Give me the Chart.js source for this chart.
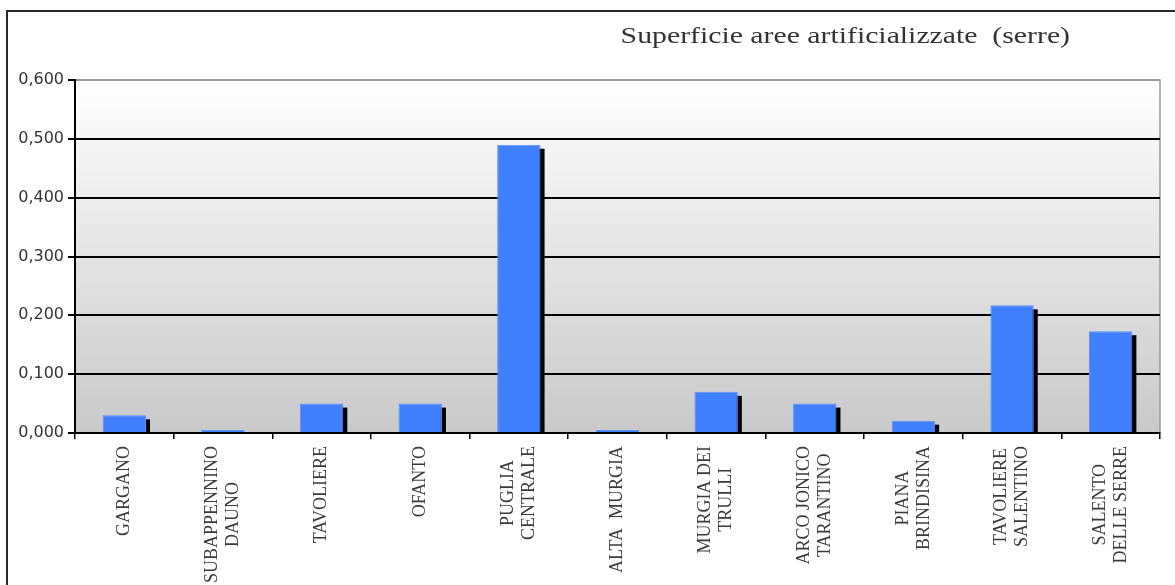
<!DOCTYPE html>
<html>
<head>
<meta charset="utf-8">
<script src="https://cdn.jsdelivr.net/npm/chart.js@4.4.1/dist/chart.umd.min.js"></script>
<style>
  html, body { margin: 0; padding: 0; background: #ffffff; }
  #wrap { position: relative; width: 1175px; height: 585px; overflow: hidden; }
  #frame { position: absolute; left: 6px; top: 10px; width: 1200px; height: 620px; border: 2px solid #2a2a2a; pointer-events: none; }
  canvas { position: absolute; left: 0; top: 0; }
</style>
</head>
<body>
<div id="wrap">
  <canvas id="c" width="1175" height="585"></canvas>
  <div id="frame"></div>
</div>
<script>
const titleText = "Superficie aree artificializzate  (serre)";
const categories = [
  ["GARGANO"],
  ["SUBAPPENNINO", "DAUNO"],
  ["TAVOLIERE"],
  ["OFANTO"],
  ["PUGLIA", "CENTRALE"],
  ["ALTA  MURGIA"],
  ["MURGIA DEI", "TRULLI"],
  ["ARCO JONICO", "TARANTINO"],
  ["PIANA", "BRINDISINA"],
  ["TAVOLIERE", "SALENTINO"],
  ["SALENTO", "DELLE SERRE"]
];
const values = [0.030, 0.005, 0.050, 0.050, 0.490, 0.005, 0.070, 0.050, 0.021, 0.217, 0.173];
const yTicks = [0, 0.1, 0.2, 0.3, 0.4, 0.5, 0.6];

const bgPlugin = {
  id: 'bg',
  beforeDraw(chart) {
    const { ctx, chartArea: a } = chart;
    const g = ctx.createLinearGradient(0, a.top, 0, a.bottom);
    g.addColorStop(0, '#ffffff');
    g.addColorStop(1, '#c9c9c9');
    ctx.save();
    ctx.fillStyle = g;
    ctx.fillRect(a.left, a.top, a.right - a.left, a.bottom - a.top);
    ctx.strokeStyle = '#9a9a9a';
    ctx.lineWidth = 1.5;
    ctx.beginPath();
    ctx.moveTo(a.left, a.top);
    ctx.lineTo(a.right, a.top);
    ctx.lineTo(a.right, a.bottom);
    ctx.stroke();
    ctx.restore();
  }
};

const shadowPlugin = {
  id: 'shadow',
  beforeDatasetsDraw(chart) {
    const { ctx } = chart;
    const meta = chart.getDatasetMeta(0);
    ctx.save();
    ctx.fillStyle = '#000000';
    meta.data.forEach(el => {
      const p = el.getProps(['x', 'y', 'base', 'width'], true);
      const left = p.x - p.width / 2 + 4;
      const top = Math.min(p.y + 4, p.base);
      ctx.fillRect(left, top, p.width, p.base - top);
    });
    ctx.restore();
  }
};

const labelPlugin = {
  id: 'xlabels',
  afterDraw(chart) {
    const { ctx } = chart;
    const xs = chart.scales.x;
    const a = chart.chartArea;
    ctx.save();
    ctx.font = '18px "Liberation Serif", "Times New Roman", serif';
    ctx.fillStyle = '#3a3a3a';
    ctx.textBaseline = 'middle';
    ctx.textAlign = 'center';
    const lineH = 21;
    categories.forEach((lines, i) => {
      const cx = xs.getPixelForValue(i);
      const maxW = Math.max(...lines.map(l => ctx.measureText(l).width));
      const centerAlong = a.bottom + 13 + maxW / 2;
      const n = lines.length;
      lines.forEach((l, j) => {
        const off = (j - (n - 1) / 2) * lineH;
        ctx.save();
        ctx.translate(cx + off, centerAlong);
        ctx.rotate(-Math.PI / 2);
        ctx.fillText(l, 0, 0);
        ctx.restore();
      });
    });
    // title (slightly wide, as in the source image)
    ctx.font = '24px "Liberation Serif", "Times New Roman", serif';
    ctx.fillStyle = '#333333';
    ctx.textAlign = 'right';
    ctx.textBaseline = 'middle';
    ctx.save();
    ctx.translate(a.right - 90, 37);
    ctx.scale(1.24, 1);
    ctx.fillText(titleText, 0, 0);
    ctx.restore();
    ctx.restore();
  }
};

new Chart(document.getElementById('c'), {
  type: 'bar',
  data: {
    labels: categories,
    datasets: [{
      data: values,
      backgroundColor: '#4080ff',
      borderColor: '#5a92ff',
      borderWidth: 1,
      barPercentage: 0.44,
      categoryPercentage: 1.0
    }]
  },
  options: {
    responsive: false,
    animation: false,
    layout: { padding: { top: 80, right: 15, left: 0, bottom: 0 } },
    plugins: { legend: { display: false }, tooltip: { enabled: false }, title: { display: false } },
    scales: {
      x: {
        offset: true,
        afterFit(s) { s.height = 152; },
        grid: { offset: true, drawOnChartArea: false, drawTicks: true, tickLength: 6, color: '#000', lineWidth: 1.5 },
        border: { display: true, color: '#000', width: 2 },
        ticks: { display: true, color: 'rgba(0,0,0,0)', font: { size: 1 }, maxRotation: 0, minRotation: 0 }
      },
      y: {
        min: 0, max: 0.6,
        afterFit(s) { s.width = 75; },
        afterBuildTicks(s) { s.ticks = yTicks.map(v => ({ value: v })); },
        grid: {
          color: ctx => (ctx.tick && ctx.tick.value === 0.6) ? '#9a9a9a' : '#000000',
          tickColor: '#000',
          lineWidth: 2,
          tickLength: 7
        },
        border: { display: true, color: '#000', width: 2 },
        ticks: {
          padding: 4,
          color: '#333',
          font: { family: '"DejaVu Sans", Verdana, sans-serif', size: 16 },
          callback: v => v.toFixed(3).replace('.', ',')
        }
      }
    }
  },
  plugins: [bgPlugin, shadowPlugin, labelPlugin]
});
</script>
</body>
</html>
